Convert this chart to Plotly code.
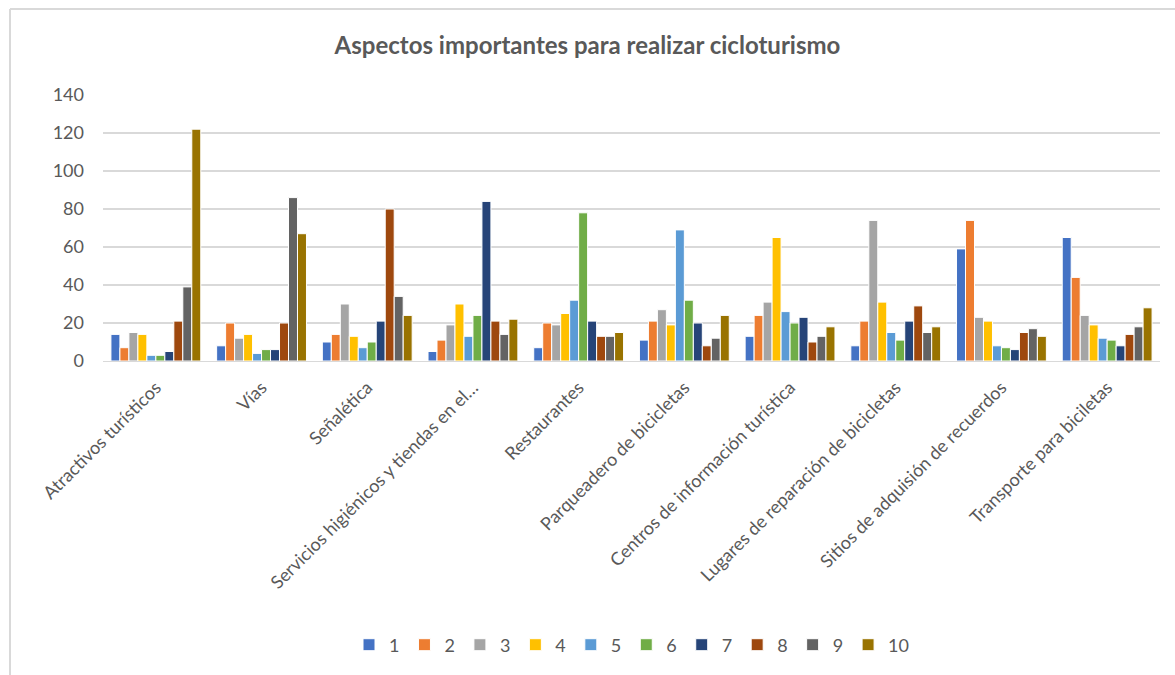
import plotly.graph_objects as go

categories = [
    "Atractivos turísticos", "Vías", "Señalética",
    "Servicios higiénicos y tiendas en el…", "Restaurantes",
    "Parqueadero de bicicletas", "Centros de información turística",
    "Lugares de reparación de bicicletas", "Sitios de adquisión de recuerdos",
    "Transporte para biciletas",
]
series_names = ["1", "2", "3", "4", "5", "6", "7", "8", "9", "10"]
s1 = [14, 8, 10, 5, 7, 11, 13, 8, 59, 65]
s2 = [7, 20, 14, 11, 20, 21, 24, 21, 74, 44]
s3 = [15, 12, 30, 19, 19, 27, 31, 74, 23, 24]
s4 = [14, 14, 13, 30, 25, 19, 65, 31, 21, 19]
s5 = [3, 4, 7, 13, 32, 69, 26, 15, 8, 12]
s6 = [3, 6, 10, 24, 78, 32, 20, 11, 7, 11]
s7 = [5, 6, 21, 84, 21, 20, 23, 21, 6, 8]
s8 = [21, 20, 80, 21, 13, 8, 10, 29, 15, 14]
s9 = [39, 86, 34, 14, 13, 12, 13, 15, 17, 18]
s10 = [122, 67, 24, 22, 15, 24, 18, 18, 13, 28]
series_values = [s1, s2, s3, s4, s5, s6, s7, s8, s9, s10]
colors = ["#4472C4", "#ED7D31", "#A5A5A5", "#FFC000", "#5B9BD5",
          "#70AD47", "#264478", "#9E480E", "#636363", "#997300"]
y_ticks = [0, 20, 40, 60, 80, 100, 120, 140]

FONT = "Lato"
TXT = "#595959"

fig = go.Figure()
for name, vals, col in zip(series_names, series_values, colors):
    fig.add_trace(go.Bar(
        x=categories, y=vals, name=name,
        marker=dict(color=col, line=dict(color="white", width=1)),
    ))

W, H = 1175, 675
L, R, T, B = 103, 15, 95, 314
pw, ph = W - L - R, H - T - B

def px_x(x):
    return (x - L) / pw

def px_y(y):
    return 1 - (y - T) / ph

fig.update_layout(
    width=W, height=H,
    margin=dict(l=L, r=R, t=T, b=B, autoexpand=False),
    paper_bgcolor="white", plot_bgcolor="white",
    barmode="group", bargap=0.15, bargroupgap=0.0,
    font=dict(family=FONT, color=TXT, size=16),
    title=dict(
        text="<b>Aspectos importantes para realizar cicloturismo</b>",
        x=0.5, xanchor="center", y=1 - 46 / H, yanchor="middle",
        font=dict(family=FONT, size=24, color=TXT),
    ),
    xaxis=dict(
        tickangle=-45, tickfont=dict(size=18, color=TXT, family=FONT),
        showgrid=False, showline=True, linecolor="#d9d9d9", linewidth=1,
        ticks="", ticklabelstandoff=8,
    ),
    yaxis=dict(
        range=[0, 140], tickvals=y_ticks,
        tickfont=dict(size=18, color=TXT, family=FONT),
        showgrid=True, gridcolor="#d9d9d9", gridwidth=1.5,
        zeroline=False, showline=False, ticks="", ticklabelstandoff=18,
    ),
    legend=dict(
        orientation="h", x=0.5, xanchor="center",
        y=px_y(645), yanchor="middle",
        font=dict(size=18, color=TXT, family=FONT),
        itemwidth=30, tracegroupgap=0,
    ),
    shapes=[
        dict(type="line", xref="paper", yref="paper",
             x0=px_x(10), x1=px_x(10), y0=px_y(9), y1=px_y(675),
             line=dict(color="#d9d9d9", width=2)),
        dict(type="line", xref="paper", yref="paper",
             x0=px_x(10), x1=px_x(1175), y0=px_y(9), y1=px_y(9),
             line=dict(color="#d9d9d9", width=2)),
    ],
)

fig.write_html("out.html")
